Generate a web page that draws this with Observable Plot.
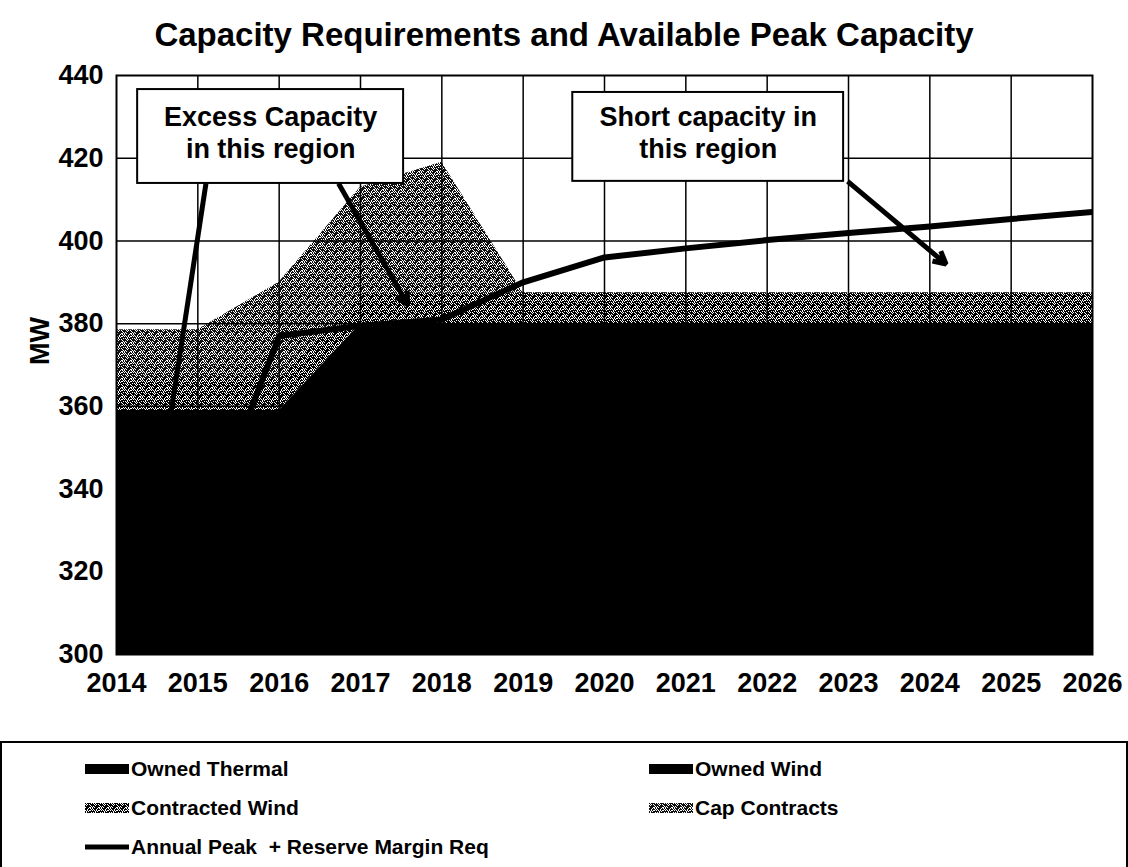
<!DOCTYPE html>
<html>
<head>
<meta charset="utf-8">
<script src="https://cdn.jsdelivr.net/npm/d3@7"></script>
<script src="https://cdn.jsdelivr.net/npm/@observablehq/plot@0.6"></script>
<style>
  body { margin: 0; background: #fff; }
  #wrap { position: relative; width: 1128px; height: 867px; overflow: hidden; background: #fff;
          font-family: "Liberation Sans", Arial, sans-serif; font-weight: bold; color: #000; }
  #title { position: absolute; left: 0; top: 13px; width: 1128px; text-align: center;
           font-size: 33px; line-height: 44px; }
  #chart { position: absolute; left: 0; top: 60px; }
  #legend { position: absolute; left: 0; top: 741px; width: 1124px; height: 160px; border: 2px solid #000; }
  .item { position: absolute; display: flex; align-items: center; font-size: 21px; white-space: nowrap; }
  .item svg { margin-right: 2px; }
</style>
</head>
<body>
<div id="wrap">
  <div id="title">Capacity Requirements and Available Peak Capacity</div>
  <div id="chart"></div>
  <div id="legend"></div>
</div>
<script>
// ---------- data ----------
const years = [2014, 2015, 2016, 2017, 2018, 2019, 2020, 2021, 2022, 2023, 2024, 2025, 2026];
const seriesNames = ["Owned Thermal", "Owned Wind", "Contracted Wind", "Cap Contracts"];
const ownedThermal   = [359, 359, 359, 359, 359, 359, 359, 359, 359, 359, 359, 359, 359];
const ownedWind      = [0, 0, 0, 21, 21, 21, 21, 21, 21, 21, 21, 21, 21];
const contractedWind = [7.5, 7.5, 7.5, 7.5, 7.5, 7.5, 7.5, 7.5, 7.5, 7.5, 7.5, 7.5, 7.5];
const capContracts   = [12, 12, 23.5, 25.5, 31.5, 0, 0, 0, 0, 0, 0, 0, 0];
const lineName = "Annual Peak  + Reserve Margin Req";
const peakYears = [2015, 2016, 2017, 2018, 2019, 2020, 2021, 2022, 2023, 2024, 2025, 2026];
const peakReq   = [326, 377, 379.5, 381, 390, 396, 398.2, 400.2, 401.9, 403.5, 405.3, 407];
const yTicks = [300, 320, 340, 360, 380, 400, 420, 440];

// annotations (data coordinates: year, MW)
const noteText = ["Excess Capacity\nin this region", "Short capacity in\nthis region"];
const noteX1 = [2014.26, 2019.61];
const noteX2 = [2017.53, 2022.94];
const noteY1 = [413.9, 414.4];
const noteY2 = [436.6, 435.9];
const pointerX1 = [2015.10, 2016.73, 2022.99];
const pointerY1 = [413.9, 413.9, 414.4];
const pointerX2 = [2014.62, 2017.58, 2024.20];
const pointerY2 = [352, 384.6, 394.4];
const pointerHead = [false, true, true];

// ---------- build tables ----------
const seriesValues = [ownedThermal, ownedWind, contractedWind, capContracts];
const table = [];
seriesNames.forEach((s, k) => years.forEach((yr, i) => table.push({series: s, year: yr, value: seriesValues[k][i]})));
const peak = peakYears.map((yr, i) => ({year: yr, value: peakReq[i]}));
const notes = noteText.map((t, i) => ({text: t, x1: noteX1[i], x2: noteX2[i], y1: noteY1[i], y2: noteY2[i],
  xm: (noteX1[i] + noteX2[i]) / 2, ym: (noteY1[i] + noteY2[i]) / 2}));
const pointers = pointerX1.map((x, i) => ({x1: x, y1: pointerY1[i], x2: pointerX2[i], y2: pointerY2[i], head: pointerHead[i]}));

// ---------- stipple pattern (texture style) ----------
function stipple(id, bg, n, k) {
  let s = `<pattern id="${id}" x="0" y="0" width="${n}" height="${n}" patternUnits="userSpaceOnUse"><rect width="${n}" height="${n}" fill="${bg}"/>`;
  for (let i = 0; i < n; i++) for (let j = 0; j < n; j++) {
    if ((i * 5 + j * 3 + (i * j) % 4) % n < k) s += `<rect x="${i}" y="${j}" width="1" height="1" fill="#fff" shape-rendering="crispEdges"/>`;
  }
  return s + `</pattern>`;
}
const fills = ["#000", "#000", "url(#stipCW)", "url(#stipCC)"];

const fontFamily = "'Liberation Sans', Arial, sans-serif";
const chart = Plot.plot({
  width: 1128, height: 634,
  marginTop: 15, marginBottom: 40, marginLeft: 116, marginRight: 36,
  style: {fontFamily, fontSize: "27px", fontWeight: "bold", color: "#000", background: "transparent", overflow: "visible"},
  x: {domain: [2014, 2026], ticks: years, tickFormat: d => String(d), tickSize: 0, tickPadding: 18, label: null},
  y: {domain: [300, 440], ticks: yTicks, tickSize: 0, tickPadding: 13, label: null},
  color: {domain: seriesNames, range: fills},
  marks: [
    Plot.areaY(table, {x: "year", y: "value", z: "series", fill: "series", clip: true}),
    Plot.ruleX(years.slice(1, -1), {stroke: "#000", strokeWidth: 1.5}),
    Plot.ruleY(yTicks.slice(1, -1), {stroke: "#000", strokeWidth: 1.5}),
    Plot.line(peak, {x: "year", y: "value", stroke: "#000", strokeWidth: 6, clip: true}),
    Plot.rect(notes, {x1: "x1", x2: "x2", y1: "y1", y2: "y2", fill: "#fff", stroke: "#000", strokeWidth: 2}),
    Plot.text(notes, {x: "xm", y: "ym", text: "text", fontSize: 27, lineHeight: 1.2, dy: -5, fill: "#000"}),
    Plot.link(pointers.filter(d => !d.head), {x1: "x1", y1: "y1", x2: "x2", y2: "y2", stroke: "#000", strokeWidth: 5}),
    Plot.arrow(pointers.filter(d => d.head), {x1: "x1", y1: "y1", x2: "x2", y2: "y2", stroke: "#000", strokeWidth: 5,
      headLength: 4.2, headAngle: 55, strokeLinejoin: "miter", strokeLinecap: "butt"}),
    Plot.text(["MW"], {frameAnchor: "left", dx: -76, rotate: -90, fontSize: 27}),
    Plot.frame({stroke: "#000", strokeWidth: 2})
  ]
});
const defs = document.createElementNS("http://www.w3.org/2000/svg", "defs");
defs.innerHTML = stipple("stipCW", "#000", 9, 3) + stipple("stipCC", "#111", 9, 3);
chart.insertBefore(defs, chart.firstChild);
document.getElementById("chart").appendChild(chart);

// ---------- legend ----------
const legend = document.getElementById("legend");
const legendItems = seriesNames.map((s, i) => ({name: s, fill: fills[i], type: "area"}))
  .concat([{name: lineName, fill: "#000", type: "line"}]);
const colLeft = [83, 647];
const rowTop = [13, 52, 91];
legendItems.forEach((it, i) => {
  const el = document.createElement("div");
  el.className = "item";
  el.style.left = colLeft[i % 2] + "px";
  el.style.top = rowTop[Math.floor(i / 2)] + "px";
  const sw = it.type === "area"
    ? `<svg width="44" height="26"><rect x="0" y="8" width="44" height="10" fill="${it.fill}"/></svg>`
    : `<svg width="44" height="26"><line x1="0" y1="13" x2="44" y2="13" stroke="#000" stroke-width="5"/></svg>`;
  el.innerHTML = sw + `<span>${it.name.replace(/ {2}/g, "&nbsp; ")}</span>`;
  legend.appendChild(el);
});
</script>
</body>
</html>
